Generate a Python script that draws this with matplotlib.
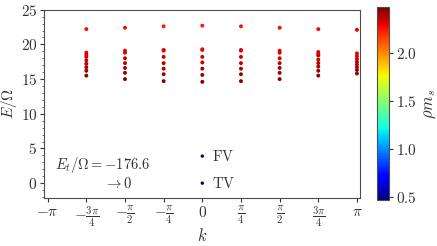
import numpy as np
import matplotlib
matplotlib.use("Agg")
import matplotlib.pyplot as plt

plt.rcParams['mathtext.fontset'] = 'cm'
plt.rcParams['font.family'] = 'serif'
plt.rcParams['font.serif'] = ['DejaVu Serif']

# momentum in units of pi/4
k_idx = [-3, -2, -1, 0, 1, 2, 3, 4]

# energies per k (E/Omega)
E_km3 = [22.2, 18.8, 18.5, 18.2, 17.7, 17.2, 16.7, 16.2, 15.5]
E_km2 = [22.4, 19.1, 18.8, 18.0, 17.3, 16.6, 15.9, 15.0]
E_km1 = [22.6, 19.2, 19.1, 18.2, 17.3, 16.5, 15.7, 14.7]
E_k0 = [22.7, 19.3, 19.2, 18.2, 17.4, 16.5, 15.6, 14.6]
E_kp1 = [22.6, 19.2, 19.1, 18.2, 17.3, 16.5, 15.7, 14.7]
E_kp2 = [22.4, 19.1, 18.8, 18.0, 17.3, 16.6, 15.9, 15.0]
E_kp3 = [22.2, 18.9, 18.6, 18.4, 17.8, 17.3, 16.8, 16.2, 15.5]
E_kp4 = [22.1, 18.7, 18.3, 17.9, 17.5, 17.1, 16.7, 16.3, 15.8]

# rho * m_s per state
r_km3 = [2.26, 2.30, 2.31, 2.33, 2.35, 2.37, 2.39, 2.41, 2.43]
r_km2 = [2.26, 2.28, 2.30, 2.33, 2.36, 2.39, 2.42, 2.45]
r_km1 = [2.25, 2.27, 2.29, 2.33, 2.36, 2.39, 2.42, 2.45]
r_k0 = [2.24, 2.27, 2.28, 2.32, 2.36, 2.39, 2.42, 2.45]
r_kp1 = [2.25, 2.27, 2.29, 2.33, 2.36, 2.39, 2.42, 2.45]
r_kp2 = [2.26, 2.28, 2.30, 2.33, 2.36, 2.39, 2.42, 2.45]
r_kp3 = [2.27, 2.30, 2.31, 2.33, 2.35, 2.37, 2.39, 2.41, 2.43]
r_kp4 = [2.29, 2.30, 2.31, 2.33, 2.35, 2.37, 2.39, 2.41, 2.43]

E_all = [E_km3, E_km2, E_km1, E_k0, E_kp1, E_kp2, E_kp3, E_kp4]
r_all = [r_km3, r_km2, r_km1, r_k0, r_kp1, r_kp2, r_kp3, r_kp4]

# false / true vacuum at k=0
E_vac = [3.9, 0.0]
r_vac = [0.50, 0.48]
vac_names = ['FV', 'TV']

vmin, vmax = 0.47, 2.47

fig = plt.figure(figsize=(4.37, 2.46), dpi=100)
ax = fig.add_axes([0.1014, 0.1963, 0.7231, 0.7643])
cax = fig.add_axes([0.862, 0.187, 0.028, 0.783])

for n, E, r in zip(k_idx, E_all, r_all):
    kk = np.full(len(E), n * np.pi / 4)
    sc = ax.scatter(kk, E, c=r, cmap='jet', vmin=vmin, vmax=vmax, s=8, linewidths=0)

ax.scatter([0, 0], E_vac, c=r_vac, cmap='jet', vmin=vmin, vmax=vmax, s=6, linewidths=0)
for e, name in zip(E_vac, vac_names):
    ax.text(0.2, e, r'$\mathrm{%s}$' % name, fontsize=10.5, va='center', ha='left', color='0.2')

ax.text(-3.0, 2.6, r'$E_t/\Omega = -176.6$', fontsize=10.5, va='center', ha='left', color='0.2')
ax.text(-2.0, -0.1, r'$\rightarrow 0$', fontsize=10.5, va='center', ha='left', color='0.2')

ax.set_xlim(-3.21, 3.21)
ax.set_ylim(-2.1, 25)
ax.set_xticks([n * np.pi / 4 for n in range(-4, 5)])
ax.set_xticklabels([r'$-\pi$', r'$-\frac{3\pi}{4}$', r'$-\frac{\pi}{2}$', r'$-\frac{\pi}{4}$', r'$0$',
                    r'$\frac{\pi}{4}$', r'$\frac{\pi}{2}$', r'$\frac{3\pi}{4}$', r'$\pi$'])
ax.set_yticks([0, 5, 10, 15, 20, 25])
ax.set_yticklabels([r'$%d$' % v for v in [0, 5, 10, 15, 20, 25]])
ax.set_yticks(np.arange(-2, 26, 1), minor=True)
ax.tick_params(labelsize=11, colors='0.2', length=3, pad=2)
ax.tick_params(which='minor', length=1.5, colors='0.3')
for sp in ax.spines.values():
    sp.set_color('0.3')
ax.set_xlabel(r'$k$', fontsize=12, color='0.2')
ax.set_ylabel(r'$E/\Omega$', fontsize=11, color='0.2')
ax.yaxis.set_label_coords(-0.079, 0.5)
ax.xaxis.set_label_coords(0.5, -0.16)

cb = fig.colorbar(sc, cax=cax)
cb.set_ticks([0.5, 1.0, 1.5, 2.0])
cb.set_ticklabels([r'$0.5$', r'$1.0$', r'$1.5$', r'$2.0$'])
cax.tick_params(labelsize=11, colors='0.2', length=3, pad=2)
cb.outline.set_edgecolor('0.3')
cb.set_label(r'$\rho m_s$', fontsize=12, color='0.2', labelpad=3)

fig.savefig('out.png', dpi=100)
